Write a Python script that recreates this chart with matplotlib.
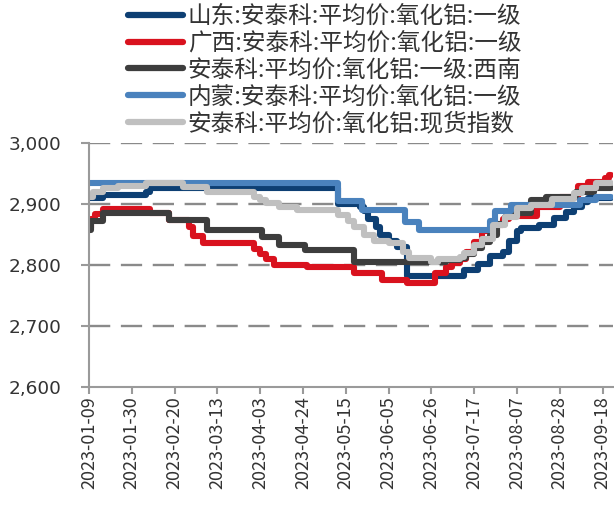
import matplotlib
matplotlib.use("Agg")
import matplotlib.pyplot as plt
import matplotlib.dates as mdates
from matplotlib.ticker import FuncFormatter, FixedLocator
import pandas as pd

plt.rcParams['font.family'] = ['Noto Sans CJK SC', 'DejaVu Sans']

# Price change points (date the price was set, CNY/t); each price holds until the next one
sd_dates = ['2023-01-09', '2023-01-16', '2023-02-06', '2023-02-08', '2023-05-11', '2023-05-22',
            '2023-05-24', '2023-05-26', '2023-05-30', '2023-06-01', '2023-06-05', '2023-06-09',
            '2023-06-14', '2023-07-12', '2023-07-19', '2023-07-25', '2023-07-31', '2023-08-03',
            '2023-08-07', '2023-08-09', '2023-08-18', '2023-08-25', '2023-08-31', '2023-09-04',
            '2023-09-08', '2023-09-11', '2023-09-22']
sd_vals = [2910, 2915, 2920, 2926, 2900, 2895,
           2888, 2875, 2862, 2850, 2840, 2830,
           2782, 2792, 2802, 2815, 2822, 2840,
           2855, 2861, 2866, 2877, 2887, 2896,
           2904, 2910, 2910]

gx_dates = ['2023-01-09', '2023-01-10', '2023-01-12', '2023-01-16', '2023-02-08', '2023-02-17',
            '2023-02-27', '2023-03-01', '2023-03-06', '2023-03-31', '2023-04-03', '2023-04-06',
            '2023-04-10', '2023-04-26', '2023-05-19', '2023-06-02', '2023-06-14', '2023-06-28',
            '2023-07-03', '2023-07-06', '2023-07-10', '2023-07-13', '2023-07-17', '2023-07-21',
            '2023-07-26', '2023-07-31', '2023-08-03', '2023-08-08', '2023-08-17', '2023-08-28',
            '2023-09-06', '2023-09-11', '2023-09-19', '2023-09-21', '2023-09-22']
gx_vals = [2860, 2875, 2884, 2892, 2886, 2874,
           2862, 2848, 2836, 2826, 2818, 2810,
           2800, 2797, 2786, 2775, 2771, 2786,
           2797, 2803, 2810, 2822, 2838, 2855,
           2866, 2876, 2886, 2881, 2895, 2912,
           2930, 2937, 2943, 2948, 2948]

xn_dates = ['2023-01-09', '2023-01-10', '2023-01-16', '2023-02-17', '2023-03-08', '2023-04-04',
            '2023-04-12', '2023-04-25', '2023-05-19', '2023-07-03', '2023-07-10', '2023-07-13',
            '2023-07-17', '2023-07-21', '2023-07-25', '2023-07-28', '2023-08-01', '2023-08-04',
            '2023-08-14', '2023-08-21', '2023-09-05', '2023-09-14', '2023-09-22']
xn_vals = [2857, 2872, 2886, 2874, 2857, 2846,
           2833, 2824, 2805, 2808, 2812, 2818,
           2828, 2838, 2850, 2868, 2878, 2885,
           2907, 2912, 2920, 2927, 2927]

nm_dates = ['2023-01-09', '2023-05-11', '2023-05-23', '2023-06-13', '2023-06-20', '2023-07-25',
            '2023-07-27', '2023-08-04', '2023-09-07', '2023-09-15', '2023-09-22']
nm_vals = [2935, 2905, 2890, 2870, 2857, 2872,
           2888, 2899, 2907, 2912, 2912]

idx_dates = ['2023-01-09', '2023-01-11', '2023-01-16', '2023-01-23', '2023-02-06', '2023-02-24',
             '2023-03-08', '2023-03-31', '2023-04-03', '2023-04-06', '2023-04-12', '2023-04-21',
             '2023-05-11', '2023-05-16', '2023-05-19', '2023-05-24', '2023-05-29', '2023-06-05',
             '2023-06-12', '2023-06-15', '2023-06-26', '2023-06-29', '2023-07-10', '2023-07-12',
             '2023-07-17', '2023-07-21', '2023-07-26', '2023-08-01', '2023-08-07', '2023-08-14',
             '2023-08-24', '2023-09-04', '2023-09-08', '2023-09-15', '2023-09-22']
idx_vals = [2912, 2920, 2926, 2930, 2935, 2928,
            2920, 2912, 2907, 2902, 2896, 2890,
            2882, 2872, 2862, 2850, 2840, 2836,
            2822, 2811, 2805, 2809, 2813, 2820,
            2832, 2843, 2865, 2878, 2893, 2899,
            2908, 2918, 2926, 2934, 2934]

labels = ['山东:安泰科:平均价:氧化铝:一级',
          '广西:安泰科:平均价:氧化铝:一级',
          '安泰科:平均价:氧化铝:一级:西南',
          '内蒙:安泰科:平均价:氧化铝:一级',
          '安泰科:平均价:氧化铝:现货指数']
colors = ['#0d3f73', '#d9121e', '#3d3d3d', '#4a82bd', '#c0c0c0']

y_ticks = [2600, 2700, 2800, 2900, 3000]
x_tick_dates = pd.date_range('2023-01-09', '2023-09-18', freq='21D')

series = [(sd_dates, sd_vals), (gx_dates, gx_vals), (xn_dates, xn_vals),
          (nm_dates, nm_vals), (idx_dates, idx_vals)]

fig = plt.figure(figsize=(6.14, 5.15), dpi=100)
ax = fig.add_axes([0.145, 0.2495, 0.853, 0.4722])

for (d, v), lab, c in zip(series, labels, colors):
    ax.plot(pd.to_datetime(d), v, drawstyle='steps-post', color=c, lw=4.4,
            label=lab, solid_joinstyle='round', solid_capstyle='round')

ax.set_ylim(2600, 3000)
ax.set_xlim(pd.Timestamp('2023-01-09'), pd.Timestamp('2023-09-23'))

ax.yaxis.set_major_locator(FixedLocator(y_ticks))
ax.yaxis.set_major_formatter(FuncFormatter(lambda v, p: f'{int(v):,}'))
ax.set_xticks(x_tick_dates)
ax.xaxis.set_major_formatter(mdates.DateFormatter('%Y-%m-%d'))

for y in y_ticks[1:]:
    ax.axhline(y, color='#8a8a8a', lw=1.7, ls=(0, (9, 4.5)), zorder=0.5)

for s in ['top', 'right']:
    ax.spines[s].set_visible(False)
for s in ['left', 'bottom']:
    ax.spines[s].set_color('#9a9a9a')
    ax.spines[s].set_linewidth(1.5)

ax.tick_params(axis='y', direction='out', length=6, width=1.5, color='#9a9a9a',
               labelcolor='#333333', pad=14)
ax.tick_params(axis='x', direction='out', length=5, width=1.5, color='#9a9a9a',
               labelcolor='#333333', rotation=90, pad=2)
for t in ax.get_yticklabels():
    t.set_fontfamily('DejaVu Sans')
    t.set_fontsize(13.3)
for t in ax.get_xticklabels():
    t.set_fontsize(13)

leg = fig.legend(loc='upper left', bbox_to_anchor=(0.2085, 0.990), frameon=False,
                 fontsize=17, handlelength=2.33, handletextpad=0.2,
                 labelspacing=0.16, borderaxespad=0, borderpad=0)
for line in leg.get_lines():
    line.set_linewidth(4.5)
    line.set_solid_capstyle('round')
for t in leg.get_texts():
    t.set_color('#333333')

fig.savefig('out.png', dpi=100)
